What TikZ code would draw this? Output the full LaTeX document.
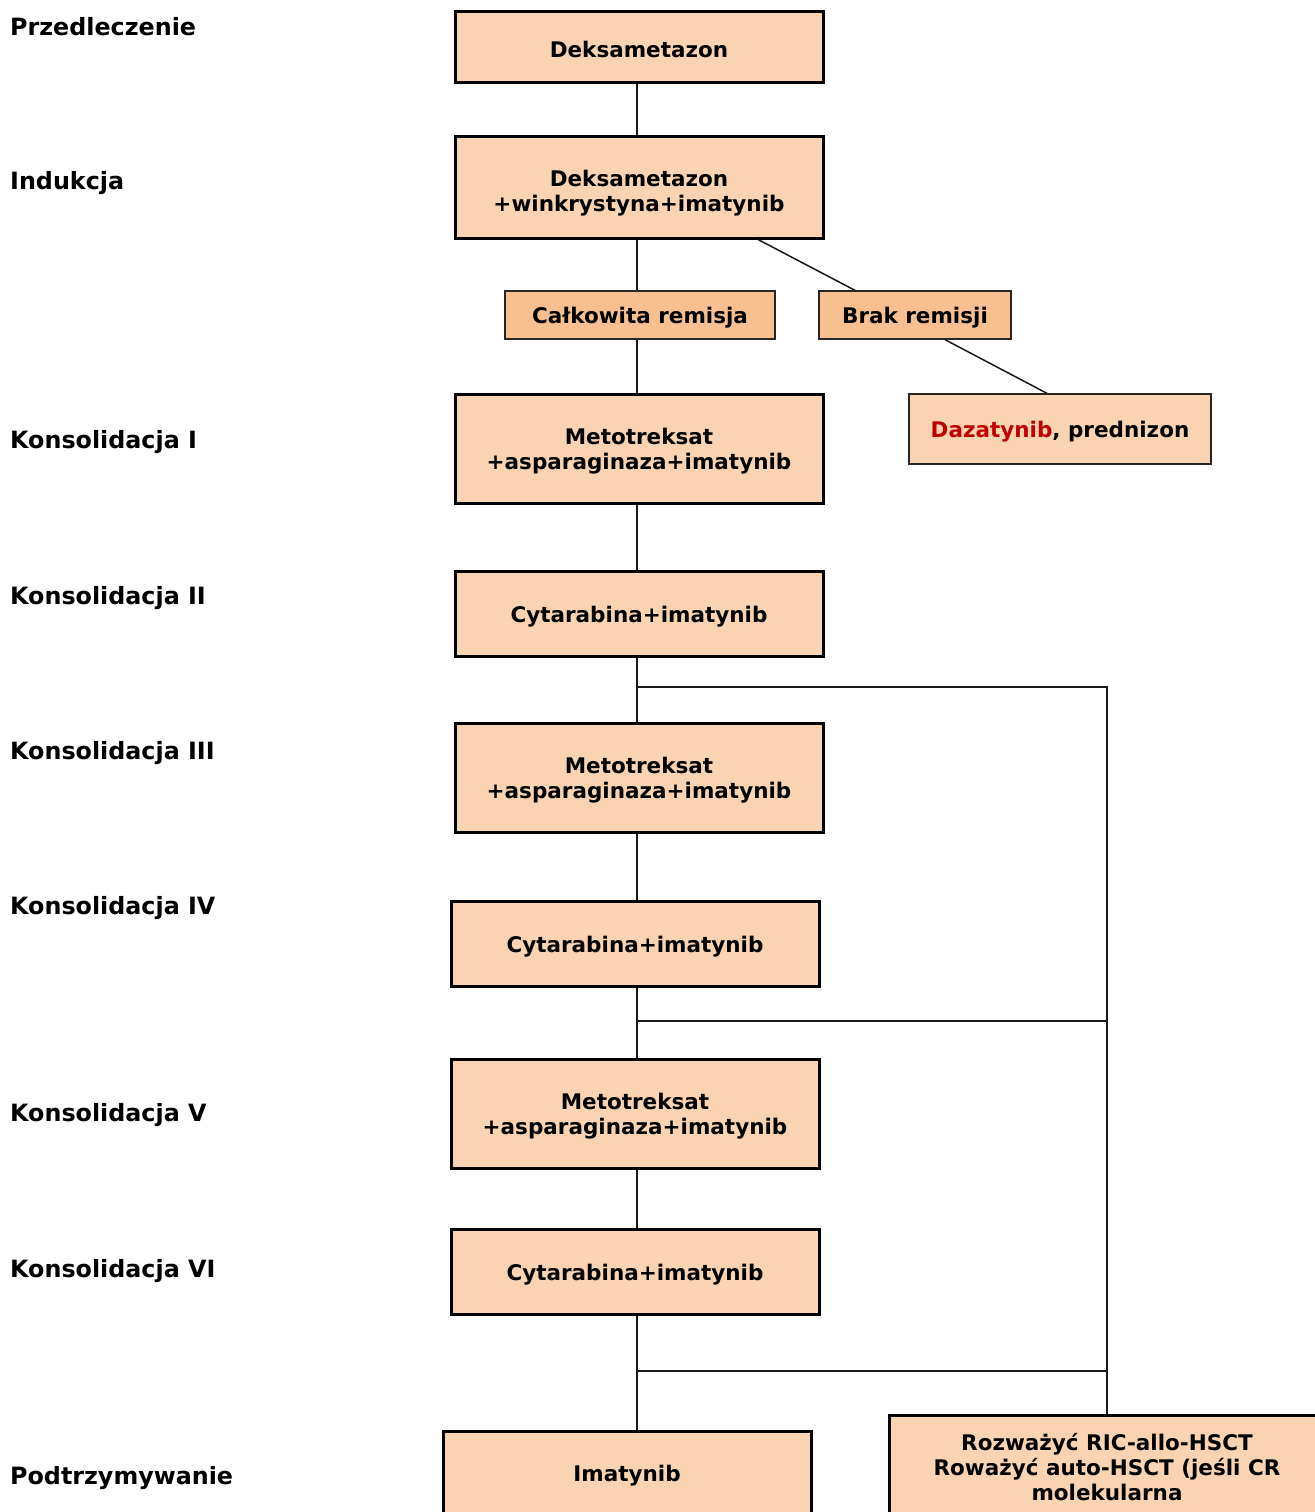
\documentclass[tikz,border=0pt]{standalone}
\usepackage{fontspec}
\usetikzlibrary{calc}
\setmainfont{DejaVu Sans}
\newcommand\lift[1]{\rule{0pt}{#1}}
\begin{document}
\begin{tikzpicture}[x=1pt,y=-1pt,
  txt/.style={font=\bfseries\fontsize{21.5}{25}\selectfont},
  lab/.style={font=\bfseries\fontsize{23.8}{28}\selectfont,anchor=west,inner sep=0pt},
  lower/.style={execute at begin node={\rule{0pt}{#1}}},
  mainbox/.style={txt,draw=black,line width=3pt,fill=peach,align=center,inner sep=0pt,lower=22.3pt},
  thinbox/.style={txt,draw=black!85,line width=1.3pt,align=center,inner sep=0pt,lower=21.5pt},
  conn/.style={draw=black!90,line width=1.5pt}]
\definecolor{peach}{HTML}{FAD4B2}
\definecolor{orangebox}{HTML}{F8C090}
\definecolor{redtxt}{HTML}{C00000}
\useasboundingbox (0,0) rectangle (1314,1512);
\fill[white] (0,0) rectangle (1314,1512);
% left labels
\node[lab] (l0) at (10,27) {Przedleczenie};
\node[lab] (l1) at (10,183.5) {Indukcja};
\node[lab] (l2) at (10,442.5) {Konsolidacja I};
\node[lab] (l3) at (10,598.5) {Konsolidacja II};
\node[lab] (l4) at (10,753.5) {Konsolidacja III};
\node[lab] (l5) at (10,908.5) {Konsolidacja IV};
\node[lab] (l6) at (10,1115.5) {Konsolidacja V};
\node[lab] (l7) at (10,1271.5) {Konsolidacja VI};
\node[lab] (l8) at (10,1478.5) {Podtrzymywanie};
% spine
\coordinate (sp) at (637,0);
% boxes
\node[mainbox,minimum width=368pt,minimum height=70pt] (b1) at (639,47) {Deksametazon};
\node[mainbox,lower=0pt,minimum width=368pt,minimum height=102pt] (b2) at (639,187) {\lift{28.3pt}Deksametazon\\+winkrystyna+imatynib};
\node[thinbox,fill=orangebox,minimum width=270pt,minimum height=48pt] (cr) at (640,315) {Całkowita remisja};
\node[thinbox,fill=orangebox,minimum width=192pt,minimum height=48pt] (br) at (915,315) {Brak remisji};
\node[thinbox,lower=22.3pt,fill=peach,minimum width=302pt,minimum height=70pt] (dz) at (1060,429) {\textcolor{redtxt}{Dazatynib}, prednizon};
\node[mainbox,lower=0pt,minimum width=368pt,minimum height=109pt] (k1) at (639,448.5) {\lift{22.3pt}Metotreksat\\+asparaginaza+imatynib};
\node[mainbox,lower=18.3pt,minimum width=368pt,minimum height=85pt] (k2) at (639,613.5) {Cytarabina+imatynib};
\node[mainbox,lower=0pt,minimum width=368pt,minimum height=109pt] (k3) at (639,777.5) {\lift{22.3pt}Metotreksat\\+asparaginaza+imatynib};
\node[mainbox,lower=20.3pt,minimum width=368pt,minimum height=85pt] (k4) at (635,943.5) {Cytarabina+imatynib};
\node[mainbox,lower=0pt,minimum width=368pt,minimum height=109pt] (k5) at (635,1113.5) {\lift{22.3pt}Metotreksat\\+asparaginaza+imatynib};
\node[mainbox,lower=20.3pt,minimum width=368pt,minimum height=85pt] (k6) at (635,1271.5) {Cytarabina+imatynib};
\node[mainbox,minimum width=368pt,minimum height=84pt] (mt) at (627,1473) {Imatynib};
\node[mainbox,lower=0pt,minimum width=436pt,minimum height=104pt] (hs) at (1107,1467) {Rozważyć RIC-allo-HSCT\\Roważyć auto-HSCT (jeśli CR\\molekularna};
% junction coordinates
\coordinate (j1) at (637,687);
\coordinate (j2) at (637,1021);
\coordinate (j3) at (637,1371);
% connectors
\draw[conn] (b1.south -| sp) -- (b2.north -| sp);
\draw[conn] (b2.south -| sp) -- (cr.north -| sp);
\draw[conn] (cr.south -| sp) -- (k1.north -| sp);
\draw[conn] ($(b2.south)+(119,0)$) -- ($(br.north)+(-60,0)$);
\draw[conn] ($(br.south)+(30,0)$) -- ($(dz.north)+(-13,0)$);
\draw[conn] (k1.south -| sp) -- (k2.north -| sp);
\draw[conn] (k2.south -| sp) -- (k3.north -| sp);
\draw[conn] (k3.south -| sp) -- (k4.north -| sp);
\draw[conn] (k4.south -| sp) -- (k5.north -| sp);
\draw[conn] (k5.south -| sp) -- (k6.north -| sp);
\draw[conn] (k6.south -| sp) -- (mt.north -| sp);
\draw[conn] (j1) -| (hs.north);
\draw[conn] (j2) -- (j2 -| hs.north);
\draw[conn] (j3) -- (j3 -| hs.north);
\end{tikzpicture}
\end{document}
